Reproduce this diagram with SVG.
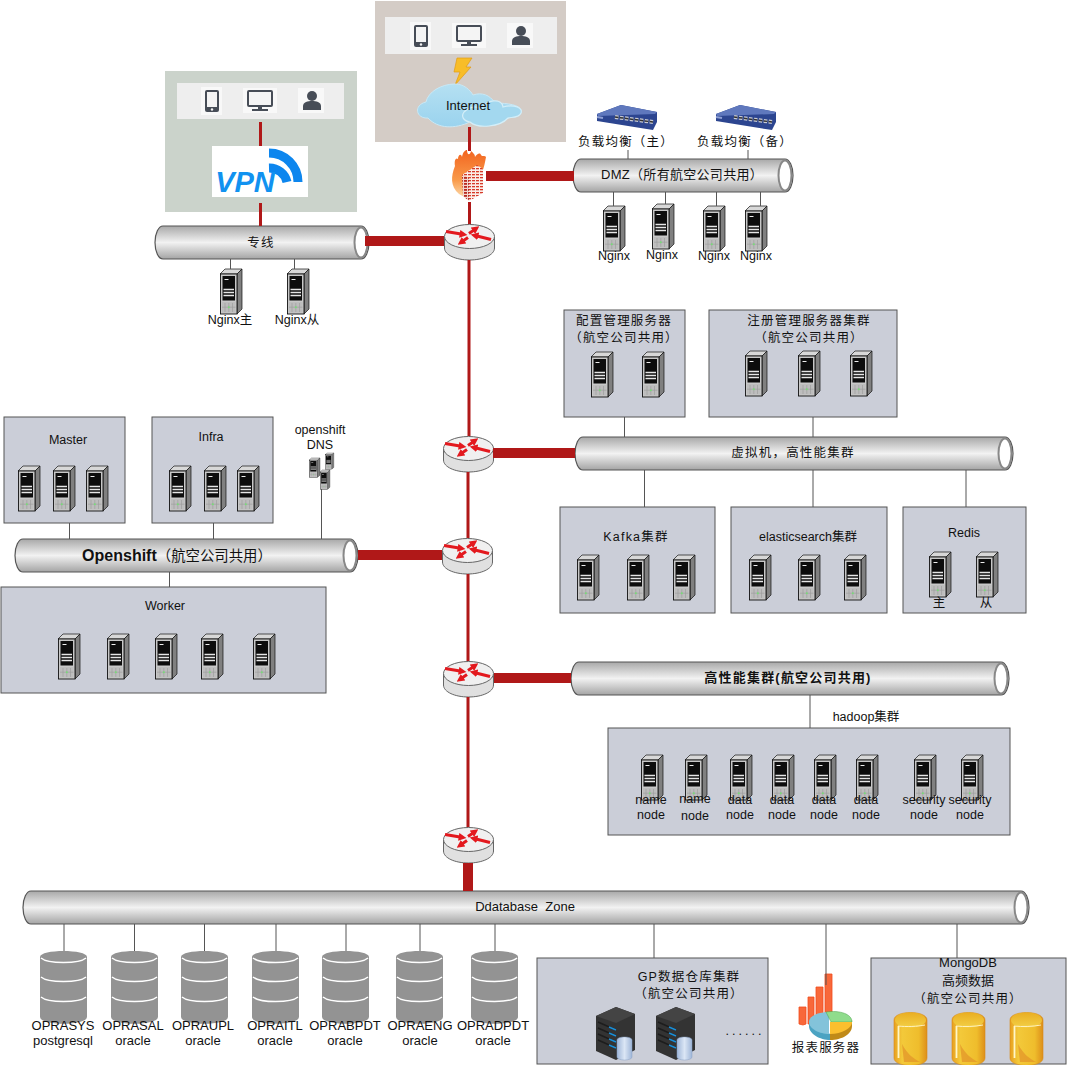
<svg xmlns="http://www.w3.org/2000/svg" xmlns:xlink="http://www.w3.org/1999/xlink" width="1067" height="1065" viewBox="0 0 1067 1065">
<style>
text{font-family:"Liberation Sans","Noto Sans CJK SC",sans-serif;font-size:12.500px;fill:#111;text-anchor:middle}
.cn{letter-spacing:1.200px}
.db{font-size:13px}
.box{fill:#cbced8;stroke:#555;stroke-width:1}
.pipe{fill:url(#pg);stroke:#555;stroke-width:1.200}
.end{fill:#fff;stroke:#888;stroke-width:2}
.thin{stroke:#555;stroke-width:1;fill:none}
.red{stroke:#b01818;stroke-width:3;fill:none}
.fat{stroke:#b01818;stroke-width:10;fill:none}
.bar{fill:#eee}
.ic{fill:#474d57}
.tile{fill:#f8f8f8}
</style>
<defs>
<linearGradient id="pg" x1="0" y1="0" x2="0" y2="1"><stop offset="0" stop-color="#a8a8a8"/><stop offset=".5" stop-color="#f2f2f2"/><stop offset="1" stop-color="#a4a4a4"/></linearGradient>
<linearGradient id="gold" x1="0" y1="0" x2="1" y2="0"><stop offset="0" stop-color="#e8a020"/><stop offset=".25" stop-color="#f3c93a"/><stop offset=".75" stop-color="#efbd2c"/><stop offset="1" stop-color="#dd8f1a"/></linearGradient>
<linearGradient id="goldtop" x1="0" y1="0" x2="0" y2="1"><stop offset="0" stop-color="#e9ae22"/><stop offset="1" stop-color="#f3cf45"/></linearGradient>
<linearGradient id="blueCyl" x1="0" y1="0" x2="1" y2="0"><stop offset="0" stop-color="#9fb6d8"/><stop offset=".5" stop-color="#dbe6f5"/><stop offset="1" stop-color="#9fb6d8"/></linearGradient>
<linearGradient id="cloud" x1="0" y1="0" x2="0" y2="1"><stop offset="0" stop-color="#b5e0f2"/><stop offset="1" stop-color="#9ad3ee"/></linearGradient>
<linearGradient id="flame" x1="0" y1="0" x2="0" y2="1"><stop offset="0" stop-color="#f2641f"/><stop offset=".6" stop-color="#f99a4a"/><stop offset="1" stop-color="#fde2b8"/></linearGradient>
<pattern id="brick" width="4" height="3" patternUnits="userSpaceOnUse"><rect width="4" height="3" fill="#fbeee8"/><rect width="3" height="1.300" fill="#d63a2a"/></pattern>
<pattern id="brickd" width="4" height="3" patternUnits="userSpaceOnUse"><rect width="4" height="3" fill="#f2d8d0"/><rect width="3" height="1.800" fill="#b82a20"/></pattern>
<marker id="ra" viewBox="0 0 6 6" refX="1" refY="3" markerWidth="2.600" markerHeight="2.600" orient="auto"><path d="M0,0L6,3L0,6z" fill="#e3191e"/></marker>
<g id="srv">
<polygon points="0,5 5,0 22,0 17,5" fill="#d8d8d8" stroke="#111" stroke-width=".7"/>
<polygon points="17,5 22,0 22,40 17,45" fill="#808080" stroke="#111" stroke-width=".7"/>
<rect x=".5" y="5" width="16.500" height="40" fill="#c8c8c8" stroke="#111" stroke-width=".9"/>
<rect x="2.500" y="7" width="12.500" height="24.500" fill="#0d0d0d"/>
<path d="M4.500,10.500h4" stroke="#eee" stroke-width="1"/>
<path d="M3.500,20.500h10.500M3.500,23.500h10.500M3.500,26.500h10.500" stroke="#e6e6e6" stroke-width="1.300"/>
<rect x="2" y="33" width="13.500" height="10.500" fill="#bdbdbd"/>
<path d="M8.800,34v9M2,38.200h13.500M5,34v9M12.500,34v9" stroke="#9a9a9a" stroke-width=".6"/>
<circle cx="8.800" cy="38.200" r="1" fill="#7d7"/>
</g>
<g id="router">
<path d="M.5,13V24C.5,31 12,36 25.500,36S50.500,31 50.500,24V13z" fill="#e0e0e0" stroke="#666" stroke-width="1"/>
<ellipse cx="25.500" cy="12.500" rx="25" ry="12" fill="#f0f0f0" stroke="#666" stroke-width="1"/>
<g stroke="#e3191e" stroke-width="3">
<line x1="2" y1="7.500" x2="17" y2="10" marker-end="url(#ra)"/>
<line x1="25" y1="9.500" x2="30" y2="6" marker-end="url(#ra)"/>
<line x1="47" y1="15.500" x2="33" y2="12" marker-end="url(#ra)"/>
<line x1="24" y1="13.500" x2="19" y2="17" marker-end="url(#ra)"/>
</g>
</g>
<g id="db">
<path d="M0,6C0,-2 47,-2 47,6V66C47,75 0,75 0,66z" fill="#939393"/>
<path d="M1,7C8,13 39,13 46,7M1,26C8,32 39,32 46,26M1,46C8,52 39,52 46,46" fill="none" stroke="#fff" stroke-width="1.500"/>
</g>
<g id="goldc">
<path d="M0,8C0,-2 33,-2 33,8V46C33,56 0,56 0,46z" fill="url(#gold)" stroke="#d68a18" stroke-width=".6"/>
<ellipse cx="16.500" cy="8" rx="15.500" ry="7.500" fill="url(#goldtop)"/>
<path d="M4,14C12,15 24,14.500 31,13" fill="none" stroke="#fff3c0" stroke-width="1"/>
<path d="M4.500,14V46" stroke="#fff6c8" stroke-width="1.800"/>
<path d="M8,32C13,42 20,47 26,50L10,50z" fill="#e4982a" opacity=".8"/>
</g>
<g id="gpsrv">
<polygon points="0,9 20,0 39,7 39,43 20,53 0,44" fill="#333"/>
<polygon points="0,9 20,0 39,7 20,16" fill="#444"/>
<path d="M2,15L20,23M2,21L20,29M2,27L20,35M2,33L20,41" stroke="#1d1d1d" stroke-width="1.500"/>
<path d="M13,20L20,23M13,26L20,29M13,32L20,35M13,38L20,41" stroke="#1b8fd8" stroke-width="1.500"/>
<path d="M21,33C21,29 36,29 36,33V50C36,54 21,54 21,50z" fill="url(#blueCyl)" stroke="#8ba3c7" stroke-width=".5"/>
</g>
<g id="lb">
<polygon points="0,9 24,0 60,7 60,17 56,25 0,16" fill="#2c4590"/>
<polygon points="0,9 24,0 60,7 58,9 1,11" fill="#5f78bd"/>
<path d="M0,12L6,13" stroke="#8fa0d4" stroke-width="2"/>
<path d="M18,12L56,17" stroke="#c8cbd4" stroke-width="4" stroke-dasharray="3.500 1.500"/>
<path d="M18,12L56,17" stroke="#333" stroke-width="1.500" stroke-dasharray="3.500 1.500"/>
</g>
<g id="phone"><rect x="-7" y="-11" width="14" height="22" rx="2" class="ic"/><rect x="-5" y="-9" width="10" height="15" fill="#f4f4f4"/><circle cy="8.500" r="1.200" fill="#f4f4f4"/></g>
<g id="mon"><rect x="-12" y="-10" width="24" height="15" rx="1" fill="#f4f4f4" stroke="#474d57" stroke-width="2"/><rect x="-2" y="5" width="4" height="3" class="ic"/><rect x="-8" y="8" width="16" height="2" class="ic"/></g>
<g id="usr"><circle cy="-5" r="5" class="ic"/><path d="M-9,9V5C-9,1 -4,0 0,0S9,1 9,5V9z" class="ic"/></g>
</defs>

<rect width="1067" height="1065" fill="#fff"/>

<g id="internet-zone">
<rect x="375" y="1" width="191" height="141" fill="#d4ccc6"/>
<rect x="385" y="17" width="172" height="37" class="bar"/>
<rect x="410" y="22" width="21" height="28" class="tile"/><use xlink:href="#phone" x="421" y="36"/>
<rect x="452" y="23" width="34" height="25" class="tile"/><use xlink:href="#mon" x="469" y="36"/>
<rect x="507" y="23" width="26" height="25" class="tile"/><use xlink:href="#usr" x="521" y="36"/>
<polygon points="457,58 472,58 466,67 471,67 455,85 460,72 454,72" fill="#f8bd28" stroke="#e39b12" stroke-width=".7"/>
<path d="M428,118C416,119 413,105 426,102C428,92 441,84 455,84C464,84 470,90 473,95C482,92 490,95 495,103C510,103 524,106 521,113C519,118 512,117 508,118C500,127 480,128 470,122C455,129 438,129 428,118z" fill="url(#cloud)" stroke="#c9e8f5" stroke-width="1"/>
<path d="M464,112C470,106 478,106 482,109C486,99 502,98 503,107C515,104 523,108 521,113C519,118 512,117 508,118C500,127 478,129 470,122C463,121 461,116 464,112z" fill="#a3d8ef" stroke="#d4eef8" stroke-width="1.200"/>
<text x="468" y="110" style="font-size:13px">Internet</text>
</g>
<g id="vpn-zone">
<rect x="165" y="71" width="192" height="141" fill="#cbd3cb"/>
<rect x="177" y="83" width="167" height="36" class="bar"/>
<rect x="201" y="87" width="21" height="28" class="tile"/><use xlink:href="#phone" x="212" y="101"/>
<rect x="243" y="88" width="34" height="25" class="tile"/><use xlink:href="#mon" x="260" y="101"/>
<rect x="298" y="88" width="26" height="25" class="tile"/><use xlink:href="#usr" x="312" y="101"/>
<rect x="212" y="146" width="96" height="51" fill="#fff"/>
<path d="M269,153A29,29 0 0 1 298,182M269,168A18,18 0 0 1 287,182" fill="none" stroke="#0d86ee" stroke-width="9"/>
<text x="245" y="192" style="font-size:29px;font-weight:bold;font-style:italic;fill:#1192f0">VPN</text>
</g>
<g id="firewall">
<path d="M459,194C450,186 451,176 455,166C454,160 456,157 458,159C458,155 461,153 462,157C463,152 465,150 467,150C467,155 470,156 471,151C473,153 475,154 475,157C477,154 480,152 481,155C482,157 485,155 486,157C485,162 484,168 482,172L470,200z" fill="url(#flame)"/>
<polygon points="462,175 477,165 483,169 469,178" fill="url(#brick)"/>
<polygon points="462,175 469,178 469,201 463,196" fill="url(#brickd)"/>
<polygon points="469,178 483,169 483,193 469,201" fill="url(#brick)"/>
</g>

<g id="pipe-line"><path class="pipe" d="M163,226H361a8,16.500 0 0 1 0,33H163a8,16.500 0 0 1 0,-33z"/><ellipse class="end" cx="361" cy="242.500" rx="6.500" ry="15"/><text x="261" y="247" class="cn">专线</text></g>
<g id="pipe-dmz"><path class="pipe" d="M581,159H785a8,16.500 0 0 1 0,33H581a8,16.500 0 0 1 0,-33z"/><ellipse class="end" cx="785" cy="175.500" rx="6.500" ry="15"/><text x="682" y="179" style="font-size:13px;letter-spacing:.3px">DMZ（所有航空公司共用）</text></g>
<g id="pipe-vm"><path class="pipe" d="M583,437H1005a8,16.500 0 0 1 0,33H583a8,16.500 0 0 1 0,-33z"/><ellipse class="end" cx="1005" cy="453.500" rx="6.500" ry="15"/><text x="793" y="457" class="cn">虚拟机，高性能集群</text></g>
<g id="pipe-openshift"><path class="pipe" d="M23,539H350a8,16.500 0 0 1 0,33H23a8,16.500 0 0 1 0,-33z"/><ellipse class="end" cx="350" cy="555.500" rx="6.500" ry="15"/><text x="177" y="561" style="font-size:16px;font-weight:bold">Openshift<tspan style="font-weight:normal;font-size:14.400px">（航空公司共用）</tspan></text></g>
<g id="pipe-hpc"><path class="pipe" d="M579,662H1001a8,16.500 0 0 1 0,33H579a8,16.500 0 0 1 0,-33z"/><ellipse class="end" cx="1001" cy="678.500" rx="6.500" ry="15"/><text x="788" y="682" style="font-weight:bold;font-size:13px" class="cn">高性能集群(航空公司共用)</text></g>
<g id="pipe-db"><path class="pipe" d="M31,891H1021a8,16.500 0 0 1 0,33H31a8,16.500 0 0 1 0,-33z"/><ellipse class="end" cx="1021" cy="907.500" rx="6.500" ry="15"/><text x="525" y="911" class="db">Ddatabase&#160;&#160;Zone</text></g>

<g id="router-1"><use xlink:href="#router" x="444" y="224"/></g>
<g id="router-2"><use xlink:href="#router" x="443" y="436"/></g>
<g id="router-3"><use xlink:href="#router" x="442" y="538"/></g>
<g id="router-4"><use xlink:href="#router" x="443" y="661"/></g>
<g id="router-5"><use xlink:href="#router" x="443" y="827"/></g>

<g id="lb-main"><use xlink:href="#lb" x="597" y="105"/><text x="626" y="146" class="cn">负载均衡（主）</text></g>
<g id="lb-backup"><use xlink:href="#lb" x="716" y="105"/><text x="745" y="146" class="cn">负载均衡（备）</text></g>

<g id="nginx-line-1"><use xlink:href="#srv" x="220" y="269"/><text x="230" y="324">Nginx主</text></g>
<g id="nginx-line-2"><use xlink:href="#srv" x="287" y="269"/><text x="297" y="324">Nginx从</text></g>
<g id="nginx-dmz-1"><use xlink:href="#srv" x="603" y="206"/><text x="614" y="260">Nginx</text></g>
<g id="nginx-dmz-2"><use xlink:href="#srv" x="652" y="204"/><text x="662" y="259">Nginx</text></g>
<g id="nginx-dmz-3"><use xlink:href="#srv" x="703" y="206"/><text x="714" y="260">Nginx</text></g>
<g id="nginx-dmz-4"><use xlink:href="#srv" x="745" y="206"/><text x="756" y="260">Nginx</text></g>

<g id="config"><rect x="564" y="310" width="121" height="107" class="box"/><text x="624" y="325" class="cn">配置管理服务器</text><text x="624" y="342" class="cn">（航空公司共用）</text><use xlink:href="#srv" x="591" y="352"/><use xlink:href="#srv" x="642" y="352"/></g>
<g id="registry"><rect x="709" y="310" width="188" height="107" class="box"/><text x="809" y="325" class="cn">注册管理服务器集群</text><text x="809" y="342" class="cn">（航空公司共用）</text><use xlink:href="#srv" x="745" y="351"/><use xlink:href="#srv" x="798" y="351"/><use xlink:href="#srv" x="850" y="351"/></g>
<g id="master"><rect x="4" y="417" width="121" height="106" class="box"/><text x="68" y="444">Master</text><use xlink:href="#srv" x="18" y="466"/><use xlink:href="#srv" x="53" y="466"/><use xlink:href="#srv" x="86" y="466"/></g>
<g id="infra"><rect x="152" y="417" width="121" height="106" class="box"/><text x="211" y="441">Infra</text><use xlink:href="#srv" x="169" y="466"/><use xlink:href="#srv" x="204" y="466"/><use xlink:href="#srv" x="237" y="466"/></g>
<g id="openshift-dns"><text x="320" y="434">openshift</text><text x="320" y="449">DNS</text><use xlink:href="#srv" transform="translate(309,458) scale(.5,.43)"/><use xlink:href="#srv" transform="translate(325,453) scale(.4,.36)"/><use xlink:href="#srv" transform="translate(320,470) scale(.45,.43)"/></g>
<g id="worker"><rect x="1" y="587" width="325" height="106" class="box"/><text x="165" y="610">Worker</text><use xlink:href="#srv" x="58" y="634"/><use xlink:href="#srv" x="107" y="634"/><use xlink:href="#srv" x="155" y="634"/><use xlink:href="#srv" x="201" y="634"/><use xlink:href="#srv" x="253" y="634"/></g>
<g id="kafka"><rect x="560" y="507" width="155" height="106" class="box"/><text x="636" y="541" class="cn">Kafka集群</text><use xlink:href="#srv" x="577" y="555"/><use xlink:href="#srv" x="627" y="555"/><use xlink:href="#srv" x="673" y="555"/></g>
<g id="elasticsearch"><rect x="731" y="507" width="156" height="106" class="box"/><text x="808" y="541">elasticsearch集群</text><use xlink:href="#srv" x="749" y="555"/><use xlink:href="#srv" x="798" y="555"/><use xlink:href="#srv" x="844" y="555"/></g>
<g id="redis"><rect x="903" y="507" width="123" height="106" class="box"/><text x="964" y="537">Redis</text><use xlink:href="#srv" x="929" y="552"/><use xlink:href="#srv" x="976" y="552"/><text x="939" y="607">主</text><text x="986" y="607">从</text></g>
<g id="hadoop"><text x="866" y="721">hadoop集群</text><rect x="608" y="728" width="402" height="107" class="box"/>
<use xlink:href="#srv" x="641" y="755"/><use xlink:href="#srv" x="685" y="755"/><use xlink:href="#srv" x="730" y="755"/><use xlink:href="#srv" x="772" y="755"/><use xlink:href="#srv" x="814" y="755"/><use xlink:href="#srv" x="856" y="755"/><use xlink:href="#srv" x="914" y="755"/><use xlink:href="#srv" x="961" y="755"/>
<text x="651" y="804">name</text><text x="651" y="819">node</text><text x="695" y="803">name</text><text x="695" y="820">node</text><text x="740" y="804">data</text><text x="740" y="819">node</text><text x="782" y="804">data</text><text x="782" y="819">node</text><text x="824" y="804">data</text><text x="824" y="819">node</text><text x="866" y="804">data</text><text x="866" y="819">node</text><text x="924" y="804">security</text><text x="924" y="819">node</text><text x="970" y="804">security</text><text x="970" y="819">node</text></g>

<g id="db-oprasys"><use xlink:href="#db" x="40" y="951"/><text x="63" y="1030" class="db">OPRASYS</text><text x="63" y="1045" class="db">postgresql</text></g>
<g id="db-oprasal"><use xlink:href="#db" x="111" y="951"/><text x="133" y="1030" class="db">OPRASAL</text><text x="133" y="1045" class="db">oracle</text></g>
<g id="db-oprauPl"><use xlink:href="#db" x="181" y="951"/><text x="203" y="1030" class="db">OPRAUPL</text><text x="203" y="1045" class="db">oracle</text></g>
<g id="db-opraitl"><use xlink:href="#db" x="252" y="951"/><text x="275" y="1030" class="db">OPRAITL</text><text x="275" y="1045" class="db">oracle</text></g>
<g id="db-oprabpdt"><use xlink:href="#db" x="322" y="951"/><text x="345" y="1030" class="db">OPRABPDT</text><text x="345" y="1045" class="db">oracle</text></g>
<g id="db-opraeng"><use xlink:href="#db" x="396" y="951"/><text x="420" y="1030" class="db">OPRAENG</text><text x="420" y="1045" class="db">oracle</text></g>
<g id="db-oprabdpdt"><use xlink:href="#db" x="471" y="951"/><text x="493" y="1030" class="db">OPRADPDT</text><text x="493" y="1045" class="db">oracle</text></g>

<g id="gp"><rect x="537" y="958" width="231" height="106" class="box"/><text x="689" y="981" class="cn">GP数据仓库集群</text><text x="689" y="998" class="cn">（航空公司共用）</text><use xlink:href="#gpsrv" x="596" y="1007"/><use xlink:href="#gpsrv" x="656" y="1007"/><text x="745" y="1035" style="letter-spacing:3px">......</text></g>
<g id="report">
<path d="M799,1007h7v17l-3,1l-4,-1zM808,997h6v27h-6zM816,987h7v36h-7zM825,974h7v42h-7z" fill="#f8683a" stroke="#f14d1c" stroke-width=".8"/>
<path d="M809,1020V1026C809,1034 820,1040 830,1040V1034z" fill="#4ba3c2"/>
<path d="M830,1034V1040C842,1040 852,1034 852,1026V1020z" fill="#c08a18"/>
<path d="M829,1012C818,1012 809,1016 809,1022C809,1029 820,1034 829,1034z" fill="#83c3da"/>
<path d="M826,1012C840,1010 852,1014 852,1022L831,1022z" fill="#8fdc8c" stroke="#4aa34a" stroke-width=".5"/>
<path d="M830,1022H852C852,1028 842,1034 830,1034z" fill="#fbbf2e"/>
<text x="826" y="1052" class="cn">报表服务器</text></g>
<g id="mongodb"><rect x="871" y="958" width="195" height="106" class="box"/><text x="968" y="967" class="db">MongoDB</text><text x="968" y="985" class="db">高频数据</text><text x="968" y="1003" class="cn">（航空公司共用）</text><use xlink:href="#goldc" x="894" y="1012"/><use xlink:href="#goldc" x="952" y="1012"/><use xlink:href="#goldc" x="1010" y="1012"/></g>

<g id="connectors">
<path class="thin" d="M628,150V159M748,150V159M613.500,192V206M665.500,192V204M716.500,192V206M760.500,192V206M230.500,259V269M294.500,259V269M624.500,417V437M813,417V437M644.500,470V507M813,470V507M966,470V507M69.500,523V539M213.500,523V539M321.500,489V539M169.500,572V587M810,695V728M64,924V951M134.500,924V951M204.500,924V951M276,924V951M346,924V951M420,924V951M495,924V951M654,924V958M826,924V985M957,924V958"/>
<path class="red" d="M260.500,122V146M260.500,203V226M469.500,127V151M469.500,202V224M469,260V436M468,472V538M468,574V661M468,697V827"/>
<path class="fat" d="M486,176H574M365,241H444M493,453H575M358,555H442M494,678H571"/>
<path class="fat" d="M468,863V891"/>
</g>
</svg>
